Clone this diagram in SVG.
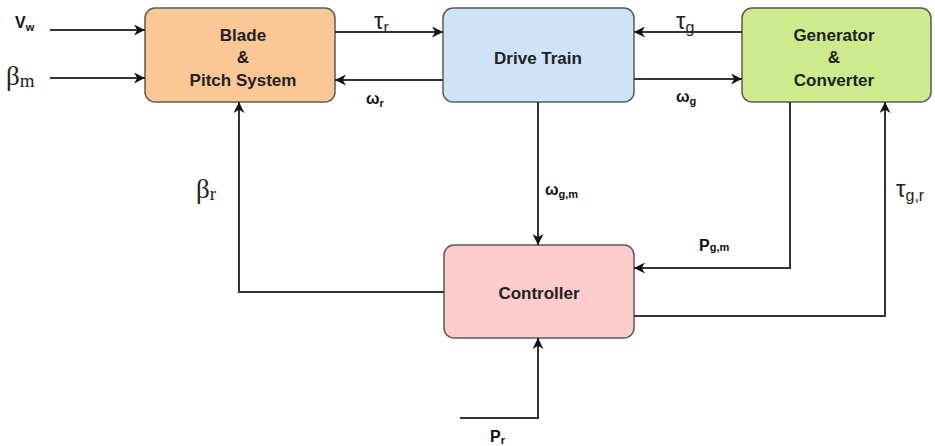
<svg xmlns="http://www.w3.org/2000/svg" width="935" height="446" viewBox="0 0 935 446">
  <defs>
    <marker id="arrow" viewBox="0 0 10 10" refX="10" refY="5" markerWidth="11" markerHeight="11" markerUnits="userSpaceOnUse" orient="auto">
      <path d="M0,0 L10,5 L0,10 L3,5 Z" fill="#111"/>
    </marker>
    <style>
      .box { stroke: #5a5a5a; stroke-width: 1.5; }
      .lbl { font-family: "Liberation Sans", Arial, sans-serif; font-weight: bold; font-size: 17px; fill: #222; text-anchor: middle; }
      .sym { font-family: "Liberation Sans", Arial, sans-serif; font-weight: bold; font-size: 16px; fill: #111; }
      .sub { font-size: 11px; }
      .ser { font-family: "Liberation Serif", "Times New Roman", serif; font-size: 27px; fill: #222; }
      .sers { font-size: 19px; }
      .thin { font-family: "Liberation Sans", Arial, sans-serif; font-size: 24px; fill: #222; }
      .thins { font-size: 16px; }
      .wire { fill: none; stroke: #333; stroke-width: 2; }
    </style>
  </defs>
  <rect width="935" height="446" fill="#fff"/>

  <g id="blade">
    <rect class="box" x="145" y="8" width="190" height="94" rx="10" fill="#fbc795"/>
    <text class="lbl" x="243" y="41">Blade</text>
    <text class="lbl" x="243" y="63">&amp;</text>
    <text class="lbl" x="243" y="86">Pitch System</text>
  </g>
  <g id="drive-train">
    <rect class="box" x="443" y="8" width="191" height="94" rx="10" fill="#cfe3f8" stroke="#7a98b8"/>
    <text class="lbl" x="538" y="64">Drive Train</text>
  </g>
  <g id="generator">
    <rect class="box" x="742" y="8" width="189" height="94" rx="10" fill="#cdea8c"/>
    <text class="lbl" x="834" y="41">Generator</text>
    <text class="lbl" x="834" y="63">&amp;</text>
    <text class="lbl" x="834" y="86">Converter</text>
  </g>
  <g id="controller">
    <rect class="box" x="444" y="245" width="190" height="93" rx="10" fill="#ffcccc"/>
    <text class="lbl" x="539" y="299">Controller</text>
  </g>

  <g id="connectors">
    <path class="wire" d="M50,30 H145" marker-end="url(#arrow)"/>
    <path class="wire" d="M50,78 H145" marker-end="url(#arrow)"/>
    <path class="wire" d="M335,32 H443" marker-end="url(#arrow)"/>
    <path class="wire" d="M443,80 H335" marker-end="url(#arrow)"/>
    <path class="wire" d="M742,32 H634" marker-end="url(#arrow)"/>
    <path class="wire" d="M634,79 H742" marker-end="url(#arrow)"/>
    <path class="wire" d="M538,102 V245" marker-end="url(#arrow)"/>
    <path class="wire" d="M790,102 V268 H634" marker-end="url(#arrow)"/>
    <path class="wire" d="M634,316 H885 V102" marker-end="url(#arrow)"/>
    <path class="wire" d="M444,292 H239 V102" marker-end="url(#arrow)"/>
    <path class="wire" d="M460,418 H538 V338" marker-end="url(#arrow)"/>
  </g>

  <g id="labels">
    <text class="sym" x="15" y="28">V<tspan class="sub" dy="3">w</tspan></text>
    <text class="ser" x="6" y="85">β<tspan class="sers" dy="2">m</tspan></text>
    <text class="thin" x="374" y="29">τ<tspan class="thins" dy="4">r</tspan></text>
    <text class="sym" x="366" y="104">ω<tspan class="sub" dy="3">r</tspan></text>
    <text class="thin" x="676" y="29">τ<tspan class="thins" dy="4">g</tspan></text>
    <text class="sym" x="676" y="102">ω<tspan class="sub" dy="3">g</tspan></text>
    <text class="sym" x="545" y="195">ω<tspan class="sub" dy="3">g,m</tspan></text>
    <text class="sym" x="699" y="251">P<tspan class="sub" dy="0">g,m</tspan></text>
    <text class="ser" x="196" y="198">β<tspan class="sers" dy="2">r</tspan></text>
    <text class="thin" x="896" y="197">τ<tspan class="thins" dy="4">g,r</tspan></text>
    <text class="sym" x="490" y="442">P<tspan class="sub" dy="2">r</tspan></text>
  </g>
</svg>
